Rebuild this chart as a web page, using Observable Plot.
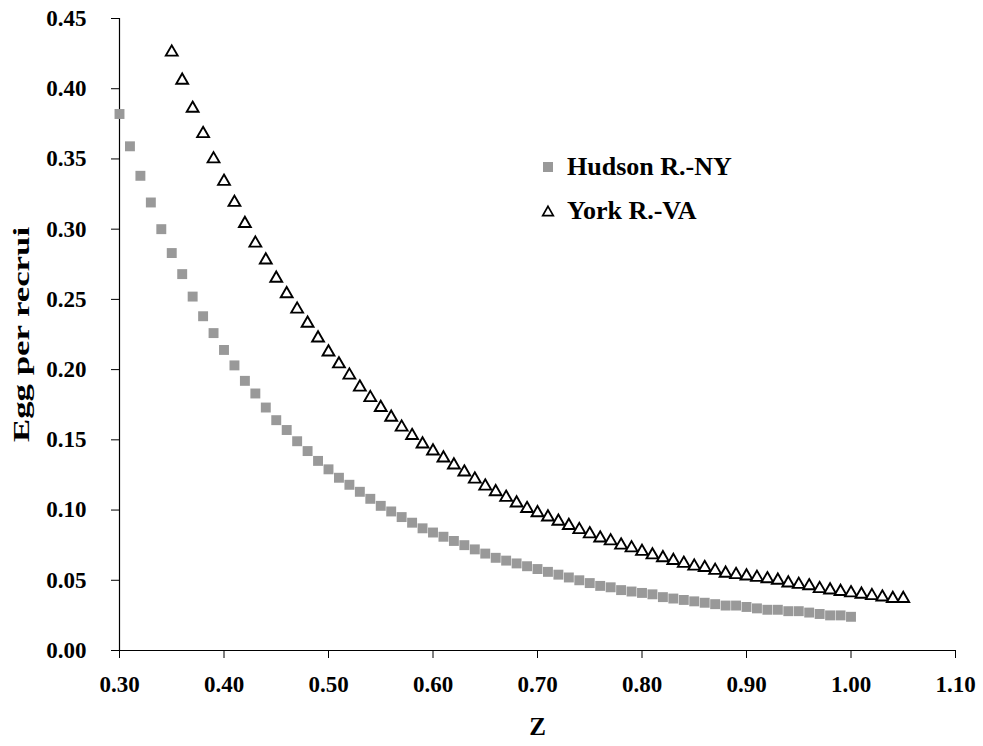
<!DOCTYPE html>
<html>
<head>
<meta charset="utf-8">
<script src="https://cdn.jsdelivr.net/npm/d3@7"></script>
<script src="https://cdn.jsdelivr.net/npm/@observablehq/plot@0.6"></script>
<style>
  html, body { margin: 0; padding: 0; background: #fff; }
  #wrap { position: relative; width: 983px; height: 746px; }
  #legend { position: absolute; left: 541px; top: 145px; font-family: "Liberation Serif", serif; font-weight: bold; font-size: 26px; color: #000; }
  #legend .row { display: flex; align-items: center; height: 44px; }
  #legend svg { margin-right: 12px; }
</style>
</head>
<body>
<div id="wrap">
  <div id="chart"></div>
  <div id="legend"></div>
</div>
<script>
const seriesNames = ["Hudson R.-NY", "York R.-VA"];

const hudsonZ = [0.30,0.31,0.32,0.33,0.34,0.35,0.36,0.37,0.38,0.39,0.40,0.41,0.42,0.43,0.44,0.45,0.46,0.47,0.48,0.49,0.50,0.51,0.52,0.53,0.54,0.55,0.56,0.57,0.58,0.59,0.60,0.61,0.62,0.63,0.64,0.65,0.66,0.67,0.68,0.69,0.70,0.71,0.72,0.73,0.74,0.75,0.76,0.77,0.78,0.79,0.80,0.81,0.82,0.83,0.84,0.85,0.86,0.87,0.88,0.89,0.90,0.91,0.92,0.93,0.94,0.95,0.96,0.97,0.98,0.99,1.00];
const hudsonEgg = [0.382,0.359,0.338,0.319,0.300,0.283,0.268,0.252,0.238,0.226,0.214,0.203,0.192,0.183,0.173,0.164,0.157,0.149,0.142,0.135,0.129,0.123,0.118,0.113,0.108,0.103,0.099,0.095,0.091,0.087,0.084,0.081,0.078,0.075,0.072,0.069,0.066,0.064,0.062,0.060,0.058,0.056,0.054,0.052,0.050,0.048,0.046,0.045,0.043,0.042,0.041,0.040,0.038,0.037,0.036,0.035,0.034,0.033,0.032,0.032,0.031,0.030,0.029,0.029,0.028,0.028,0.027,0.026,0.025,0.025,0.024];

const yorkZ = [0.35,0.36,0.37,0.38,0.39,0.40,0.41,0.42,0.43,0.44,0.45,0.46,0.47,0.48,0.49,0.50,0.51,0.52,0.53,0.54,0.55,0.56,0.57,0.58,0.59,0.60,0.61,0.62,0.63,0.64,0.65,0.66,0.67,0.68,0.69,0.70,0.71,0.72,0.73,0.74,0.75,0.76,0.77,0.78,0.79,0.80,0.81,0.82,0.83,0.84,0.85,0.86,0.87,0.88,0.89,0.90,0.91,0.92,0.93,0.94,0.95,0.96,0.97,0.98,0.99,1.00,1.01,1.02,1.03,1.04,1.05];
const yorkEgg = [0.426,0.406,0.386,0.368,0.350,0.334,0.319,0.304,0.290,0.278,0.265,0.254,0.243,0.233,0.2225,0.2125,0.204,0.196,0.1875,0.180,0.173,0.166,0.159,0.153,0.147,0.142,0.137,0.132,0.127,0.122,0.117,0.113,0.109,0.105,0.101,0.098,0.095,0.092,0.089,0.086,0.083,0.080,0.078,0.075,0.073,0.0705,0.068,0.066,0.064,0.062,0.060,0.059,0.057,0.055,0.054,0.053,0.052,0.051,0.050,0.048,0.047,0.046,0.044,0.043,0.042,0.041,0.040,0.039,0.038,0.037,0.037];

const xTicks = [0.30,0.40,0.50,0.60,0.70,0.80,0.90,1.00,1.10];
const yTicks = [0.00,0.05,0.10,0.15,0.20,0.25,0.30,0.35,0.40,0.45];

const hudson = hudsonZ.map((z, i) => ({z, egg: hudsonEgg[i]}));
const york = yorkZ.map((z, i) => ({z, egg: yorkEgg[i]}));

const fmt = d => d.toFixed(2);
const chart = Plot.plot({
  width: 983,
  height: 746,
  marginLeft: 119,
  marginRight: 28,
  marginTop: 18,
  marginBottom: 96,
  style: {fontFamily: "'Liberation Serif', serif", fontWeight: "bold", fontSize: "23px", color: "#000", background: "#fff"},
  x: {domain: [0.30, 1.10]},
  y: {domain: [0, 0.45]},
  marks: [
    Plot.axisX(xTicks, {tickSize: 8, tickPadding: 17, tickFormat: fmt, label: "Z", labelAnchor: "center", labelArrow: "none", labelOffset: 84, stroke: "#000", fontSize: 23}),
    Plot.axisY(yTicks, {tickSize: 8, tickPadding: 25, tickFormat: fmt, label: "Egg per recrui", labelAnchor: "center", labelArrow: "none", labelOffset: 108, stroke: "#000", fontSize: 23}),
    Plot.ruleX([0.30], {stroke: "#000", strokeWidth: 1.2}),
    Plot.ruleY([0], {stroke: "#000", strokeWidth: 1.2}),
    Plot.dot(hudson, {x: "z", y: "egg", symbol: "square", r: 5.6, fill: "#999999", stroke: "none"}),
    Plot.dot(york, {x: "z", y: "egg", symbol: "triangle", r: 4.4, fill: "#fff", stroke: "#000", strokeWidth: 1.9})
  ]
});
// axis titles: slightly larger; the y title is drawn elongated as in the reference
chart.querySelectorAll("[aria-label='x-axis label'] text").forEach(t => t.setAttribute("font-size", "25"));
chart.querySelectorAll("[aria-label='y-axis label'] text").forEach(t => {
  t.setAttribute("font-size", "24");
  const tr = t.getAttribute("transform") || "";
  t.setAttribute("transform", tr + " scale(1.45,1)");
});
document.getElementById("chart").appendChild(chart);

const legend = document.getElementById("legend");
const legendSymbols = [
  '<svg width="14" height="14"><rect x="2" y="2" width="10" height="10" fill="#999999"/></svg>',
  '<svg width="14" height="14"><path d="M7,2.3 L12.3,11.7 L1.7,11.7 Z" fill="#fff" stroke="#000" stroke-width="1.7"/></svg>'
];
seriesNames.forEach((name, i) => {
  const row = document.createElement("div");
  row.className = "row";
  row.innerHTML = legendSymbols[i] + "<span>" + name + "</span>";
  legend.appendChild(row);
});
</script>
</body>
</html>
